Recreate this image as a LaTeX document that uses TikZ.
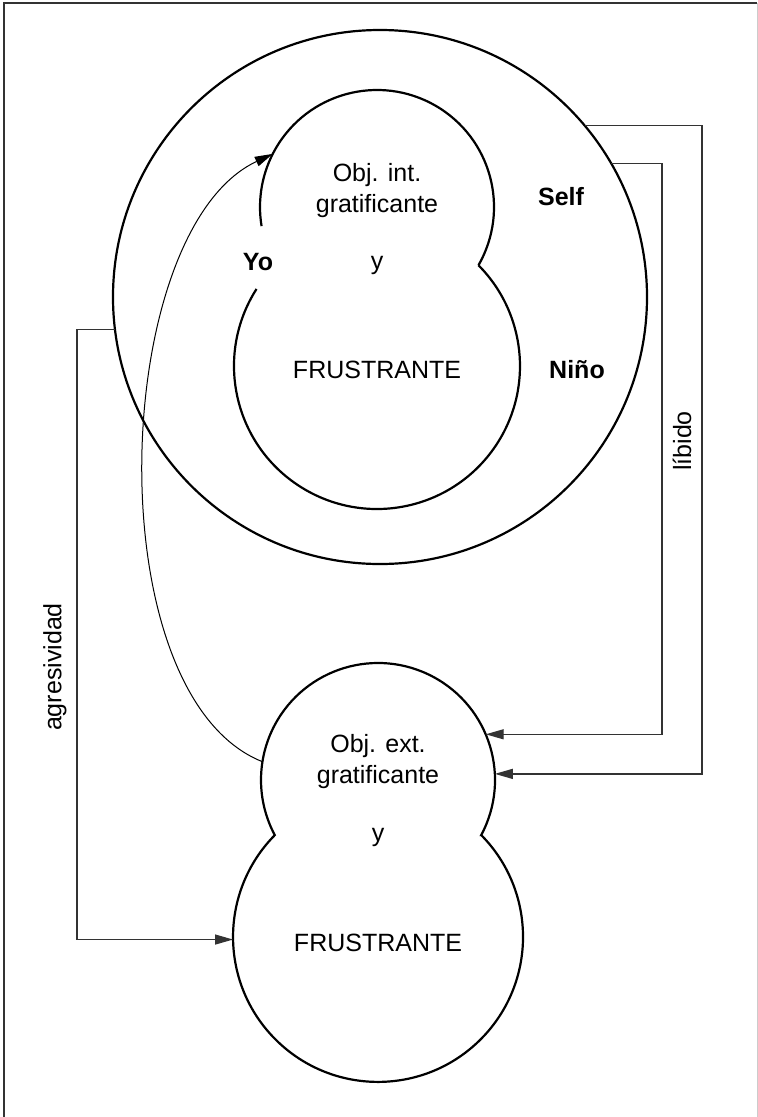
\documentclass[tikz,border=0pt]{standalone}
\usepackage{fontspec}
\setmainfont{Liberation Sans}
\usetikzlibrary{arrows.meta}
\begin{document}
\begin{tikzpicture}[x=1pt,y=1pt,
  shapeline/.style={line width=2.2pt,black},
  conn/.style={line width=1.3pt,black!80,-{Triangle[length=18pt,width=10pt]}},
  curvearr/.style={line width=1pt,black,-{Triangle[length=18pt,width=10pt]}},
  lbl/.style={font=\fontsize{25}{31}\selectfont,align=center,inner sep=0pt},
  blbl/.style={font=\fontsize{25}{31}\selectfont\bfseries,inner sep=0pt},
  ghost/.style={circle,inner sep=0pt,outer sep=0pt}]
\useasboundingbox (0,0) rectangle (758,-1117);
% frame
\draw[line width=2pt,black!80] (4,-1117) -- (4,-3) -- (757,-3);
\draw[line width=1pt,black!20] (757,-3) -- (757,-1117);
% big circle
\node[circle,draw,shapeline,minimum size=534pt,inner sep=0pt,outer sep=0pt] (self) at (380,-297) {};
% internal object shape
\node[ghost,minimum size=234pt] (intTop) at (377,-207) {};
\node[ghost,minimum size=286pt] (intBot) at (377,-366) {};
\draw[shapeline] (intTop.center) ++(-29.85:117) arc[start angle=-29.85,end angle=189.4,radius=117];
\draw[shapeline] (intBot.center) ++(147.4:143) arc[start angle=147.4,end angle=404.8,radius=143];
% external object shape
\node[ghost,minimum size=234pt] (extTop) at (378,-780) {};
\node[ghost,minimum size=290pt] (extBot) at (378,-937) {};
\draw[shapeline] (extTop.center) ++(-28.1:117) arc[start angle=-28.1,end angle=208.1,radius=117]
  arc[start angle=135.4,end angle=404.6,radius=145] -- cycle;
% texts
\node[lbl] (intObj) at (377,-191) {Obj. int.\\gratificante};
\node[lbl] (intY) at (377,-265) {y};
\node[lbl] (intFr) at (377,-370) {FRUSTRANTE};
\node[blbl] (yo) at (258,-262) {Yo};
\node[blbl] (selfLbl) at (561,-197) {Self};
\node[blbl] (nino) at (577,-370) {Niño};
\node[lbl] (extObj) at (378,-762) {Obj. ext.\\gratificante};
\node[lbl] (extY) at (378,-837) {y};
\node[lbl] (extFr) at (378,-943) {FRUSTRANTE};
\node[lbl,rotate=90] (libido) at (682,-441) {líbido};
\node[lbl,rotate=90] (agres) at (55,-667) {agresividad};
% connector corners
\coordinate (libOut) at (702,0);
\coordinate (libIn) at (662,0);
\coordinate (agX) at (77,0);
% libido connectors
\draw[conn] (self.40.1) -- (self.40.1 -| libOut) -- (extTop.3.9 -| libOut) -- (extTop.3.9);
\draw[conn] (self.30.6) -- (self.30.6 -| libIn) -- (extTop.23.7 -| libIn) -- (extTop.23.7);
% agresividad connector
\draw[conn] (self.187.75) -- (self.187.75 -| agX) -- (extBot.181.2 -| agX) -- (extBot.181.2);
% curved arrow
\draw[curvearr] (extTop.171) .. controls (95,-695) and (110,-230) .. (intTop.153);
\end{tikzpicture}
\end{document}
